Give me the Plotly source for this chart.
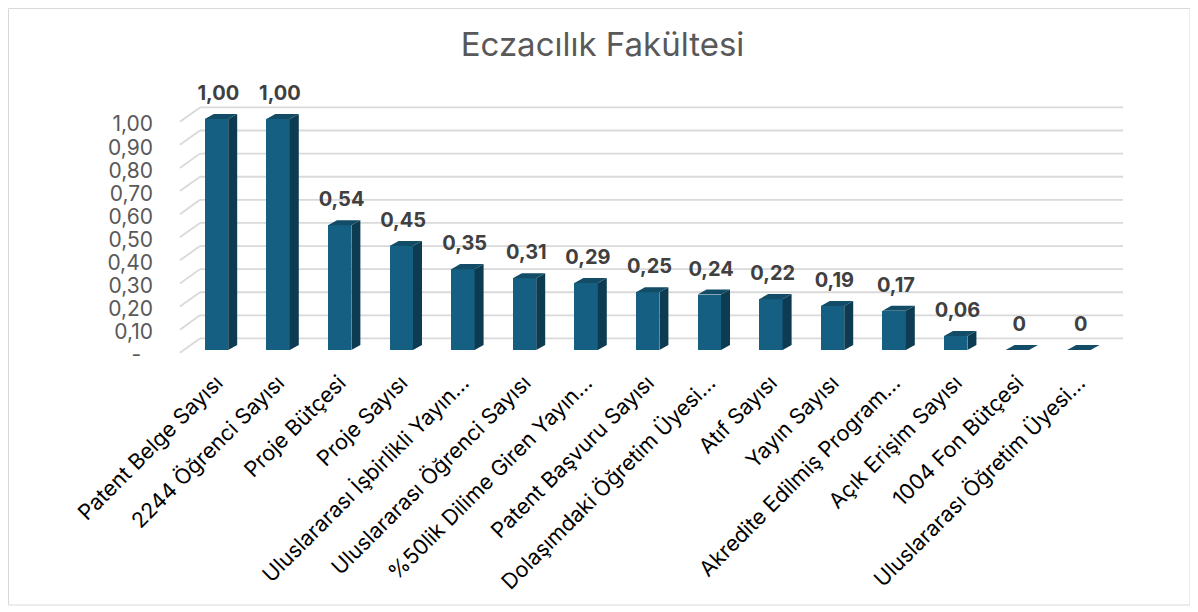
import plotly.graph_objects as go

# ---------------- data ----------------
categories = [
    "Patent Belge Sayısı",
    "2244 Öğrenci Sayısı",
    "Proje Bütçesi",
    "Proje Sayısı",
    "Uluslararası İşbirlikli Yayın…",
    "Uluslararası Öğrenci Sayısı",
    "%50lik Dilime Giren Yayın…",
    "Patent Başvuru Sayısı",
    "Dolaşımdaki Öğretim Üyesi…",
    "Atıf Sayısı",
    "Yayın Sayısı",
    "Akredite Edilmiş Program…",
    "Açık Erişim Sayısı",
    "1004 Fon Bütçesi",
    "Uluslararası Öğretim Üyesi…",
]
values = [1.00, 1.00, 0.54, 0.45, 0.35, 0.31, 0.29, 0.25, 0.24, 0.22, 0.19, 0.17, 0.06, 0, 0]
value_labels = ["1,00", "1,00", "0,54", "0,45", "0,35", "0,31", "0,29", "0,25",
                "0,24", "0,22", "0,19", "0,17", "0,06", "0", "0"]
y_tick_values = [0.0, 0.1, 0.2, 0.3, 0.4, 0.5, 0.6, 0.7, 0.8, 0.9, 1.0]
y_tick_labels = ["-\u00a0\u00a0", "0,10", "0,20", "0,30", "0,40", "0,50",
                 "0,60", "0,70", "0,80", "0,90", "1,00"]
title_text = "Eczacılık Fakültesi"

# ---------------- style / geometry constants ----------------
FONT = "Inter"
FRONT = "#156082"
SIDE = "#0d3c52"
TOP = "#124c67"
GRID = "#d9d9d9"
HALF = 0.19        # half width of bar front face (category units)
DX, DY = 0.146, 0.022   # bar depth offset
BACK_X0, BACK_X1 = -0.268, 14.716
FRONT_X = -0.593
BACK_DY, FRONT_DY = 0.05, -0.012
LABEL_DY = 0.104

# plot area in figure pixels (page body adds an 8px offset)
PL, PR, PT, PB = 152, 1117, 62, 357
W, H = 1198, 612

xs = list(range(len(categories)))

fig = go.Figure()

# front faces
fig.add_trace(go.Bar(x=xs, y=values, width=2 * HALF, marker=dict(color=FRONT, line=dict(width=0)),
                     hoverinfo="skip"))

# side faces and top faces (derived from values)
sx, sy, tx, ty = [], [], [], []
for x, v in zip(xs, values):
    x0, x1 = x - HALF, x + HALF
    sx += [x1, x1 + DX, x1 + DX, x1, x1, None]
    sy += [0, DY, v + DY, v, 0, None]
    tx += [x0, x1, x1 + DX, x0 + DX, x0, None]
    ty += [v, v, v + DY, v + DY, v, None]
fig.add_trace(go.Scatter(x=sx, y=sy, mode="lines", fill="toself", fillcolor=SIDE,
                         line=dict(width=0, color=SIDE), hoverinfo="skip"))
fig.add_trace(go.Scatter(x=tx, y=ty, mode="lines", fill="toself", fillcolor=TOP,
                         line=dict(width=0, color=TOP), hoverinfo="skip"))

# value labels
fig.add_trace(go.Scatter(x=[x + 0.03 for x in xs], y=[v + LABEL_DY for v in values],
                         mode="text", text=value_labels, textposition="middle center",
                         textfont=dict(family=FONT, size=20, color="#404040", weight="bold"),
                         hoverinfo="skip"))

# back wall gridlines and side wall lines
shapes = []
for v in y_tick_values:
    shapes.append(dict(type="line", xref="x", yref="y", x0=BACK_X0, x1=BACK_X1,
                       y0=v + BACK_DY, y1=v + BACK_DY, line=dict(color=GRID, width=1.8), layer="below"))
    shapes.append(dict(type="line", xref="x", yref="y", x0=FRONT_X, x1=BACK_X0,
                       y0=v + FRONT_DY, y1=v + BACK_DY, line=dict(color=GRID, width=1.8), layer="below"))

# chart border
pw, ph = PR - PL, PB - PT
shapes.append(dict(type="rect", xref="paper", yref="paper",
                   x0=(0.5 - PL) / pw, x1=(1182 - PL) / pw,
                   y0=(PB - 597) / ph, y1=(PB - 0.5) / ph,
                   line=dict(color="#d9d9d9", width=1), fillcolor="rgba(0,0,0,0)", layer="below"))

fig.update_layout(
    width=W, height=H,
    margin=dict(l=PL, r=W - PR, t=PT, b=H - PB, autoexpand=False),
    paper_bgcolor="white", plot_bgcolor="white",
    showlegend=False,
    shapes=shapes,
    title=dict(text=title_text, x=594.5 / W, xref="container", xanchor="center",
               y=1 - 36 / H, yref="container", yanchor="middle",
               font=dict(family=FONT, size=33, color="#595959")),
    xaxis=dict(range=[-0.917, 14.748], tickmode="array", tickvals=xs, ticktext=categories,
               tickangle=-45, tickfont=dict(family=FONT, size=21.5, color="#000000"),
               showgrid=False, zeroline=False, showline=False, ticks="", automargin=False),
    yaxis=dict(range=[-0.065, 1.212], tickmode="array",
               tickvals=[v - 0.022 for v in y_tick_values], ticktext=y_tick_labels,
               tickfont=dict(family=FONT, size=21, color="#595959"), ticklabelstandoff=6,
               showgrid=False, zeroline=False, showline=False, ticks="", automargin=False),
    bargap=0,
)

fig.write_html("out.html")
